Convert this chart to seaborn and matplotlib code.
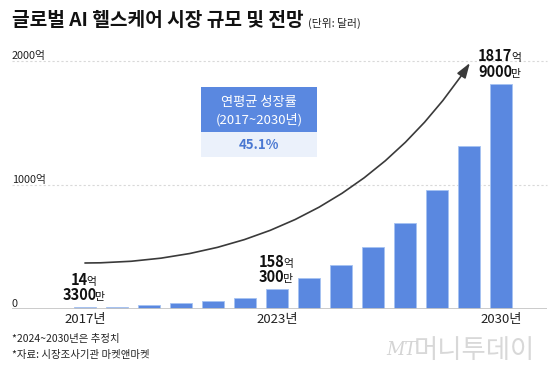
import matplotlib
matplotlib.use("Agg")
import matplotlib.pyplot as plt
import seaborn as sns
import pandas as pd
from matplotlib.patches import FancyArrowPatch, Rectangle
from matplotlib.path import Path

# 데이터 (단위: 억 달러)
years = [2017, 2018, 2019, 2020, 2021, 2022, 2023, 2024, 2025, 2026, 2027, 2028, 2029, 2030]
market_size = [14.33, 19, 32, 48, 62, 91, 158.03, 250, 357, 502, 691, 960, 1317, 1817.9]
tick_years = ["2017년", "2023년", "2030년"]
y_ticks = [0, 1000, 2000]
y_tick_labels = ["0", "1000억", "2000억"]
# 막대 위 라벨: (연도 인덱스, 억, 만)
bar_labels = [(0, "14", "3300"), (6, "158", "300"), (13, "1817", "9000")]
cagr_title = ["연평균 성장률", "(2017~2030년)"]
cagr_value = "45.1%"

W, H = 560, 372
BLUE = "#5a88e0"


def px(x, y):
    """픽셀 좌표 -> figure 좌표"""
    return x / W, 1 - y / H


def put_value(ax, i, val, num, unit, dy):
    """굵은 숫자 + 작은 단위 글자 (가운데 정렬)"""
    fs_num, fs_unit = 10.5, 7.8
    num_w = len(num) * 0.56 * fs_num
    unit_w = 0.9 * fs_unit
    split = (num_w - unit_w) / 2
    ax.annotate(num, (i, val), xytext=(split, dy), textcoords="offset points",
                ha="right", va="baseline", fontsize=fs_num, fontweight="bold",
                color="#111111", annotation_clip=False)
    ax.annotate(unit, (i, val), xytext=(split - 1.0, dy), textcoords="offset points",
                ha="left", va="baseline", fontsize=fs_unit, color="#111111",
                annotation_clip=False)


def main():
    sns.set_theme(style="white")
    plt.rcParams["font.family"] = ["Noto Sans CJK KR", "DejaVu Sans"]

    df = pd.DataFrame({"year": years, "size": market_size})

    fig = plt.figure(figsize=(W / 100, H / 100), dpi=100)
    ax = fig.add_axes([12 / W, 63 / H, 535 / W, 248 / H])

    sns.barplot(data=df, x="year", y="size", color=BLUE, saturation=1, width=0.69,
                edgecolor="#a5c2f2", linewidth=0.6, ax=ax, zorder=3)

    ax.set_xlim(-2.28, 14.44)
    ax.set_ylim(0, 2000)
    for s in ax.spines.values():
        s.set_visible(False)
    ax.set_xlabel("")
    ax.set_ylabel("")

    # 눈금선
    for v in y_ticks[1:]:
        ax.axhline(v, color="#d9d9d9", lw=0.8, ls=(0, (2, 2)), zorder=1, clip_on=False)
    ax.axhline(0, color="#c6c6c6", lw=2, zorder=4)

    ax.set_yticks([])
    for v, lab in zip(y_ticks, y_tick_labels):
        ax.text(0, v, lab, transform=ax.get_yaxis_transform(), ha="left", va="bottom",
                fontsize=7.8, color="#222222")
    ax.set_xticks([0, 6, 13])
    ax.set_xticklabels(tick_years, fontsize=9.5, color="#222222")
    ax.tick_params(axis="x", length=0, pad=3)

    # 막대 값 라벨 (두 줄: 억 / 만)
    for i, eok, man in bar_labels:
        put_value(ax, i, market_size[i], eok, "억", 16)
        put_value(ax, i, market_size[i], man, "만", 5)

    # 곡선 화살표
    verts = [(0, 371), (7.9, 371), (12.03, 1984)]
    path = Path(verts, [Path.MOVETO, Path.CURVE3, Path.CURVE3])
    arrow = FancyArrowPatch(path=path, arrowstyle="-|>,head_length=0.9,head_width=0.3",
                            mutation_scale=10, color="#3a3a3a", lw=1.2,
                            transform=ax.transData, clip_on=False, zorder=5)
    ax.add_patch(arrow)

    # 연평균 성장률 상자
    x0, y0 = px(201, 131.7)
    x1, y1 = px(317, 87)
    fig.patches.append(Rectangle((x0, y0), x1 - x0, y1 - y0, transform=fig.transFigure,
                                 facecolor=BLUE, edgecolor="none", figure=fig))
    bx0, by0 = px(201, 157)
    fig.patches.append(Rectangle((bx0, by0), x1 - bx0, y0 - by0, transform=fig.transFigure,
                                 facecolor="#ebf1fb", edgecolor="none", figure=fig))
    cx = (201 + 317) / 2
    fig.text(*px(cx, 102.5), cagr_title[0], ha="center", va="center", fontsize=9.5, color="white")
    fig.text(*px(cx, 119.5), cagr_title[1], ha="center", va="center", fontsize=9.5, color="white")
    fig.text(*px(cx, 145), cagr_value, ha="center", va="center", fontsize=9.5,
             fontweight="bold", color="#4a78d2")

    # 제목
    fig.text(*px(12, 21), "글로벌 AI 헬스케어 시장 규모 및 전망", ha="left", va="center",
             fontsize=13.8, fontweight="bold", color="#111111")
    fig.text(*px(308, 23), "(단위: 달러)", ha="left", va="center", fontsize=7.8, color="#222222")

    # 주석
    fig.text(*px(12, 339), "*2024~2030년은 추정치", ha="left", va="center", fontsize=7.5, color="#222222")
    fig.text(*px(12, 355), "*자료: 시장조사기관 마켓앤마켓", ha="left", va="center", fontsize=7.5, color="#222222")

    # 워터마크
    fig.text(*px(386, 350), "MT", ha="left", va="center", fontsize=13, style="italic",
             color="#d4d4d4", family="DejaVu Serif")
    fig.text(*px(414, 350), "머니투데이", ha="left", va="center", fontsize=19,
             color="#d8d8d8", fontweight="light")

    fig.savefig("out.png", dpi=100)


if __name__ == "__main__":
    main()
